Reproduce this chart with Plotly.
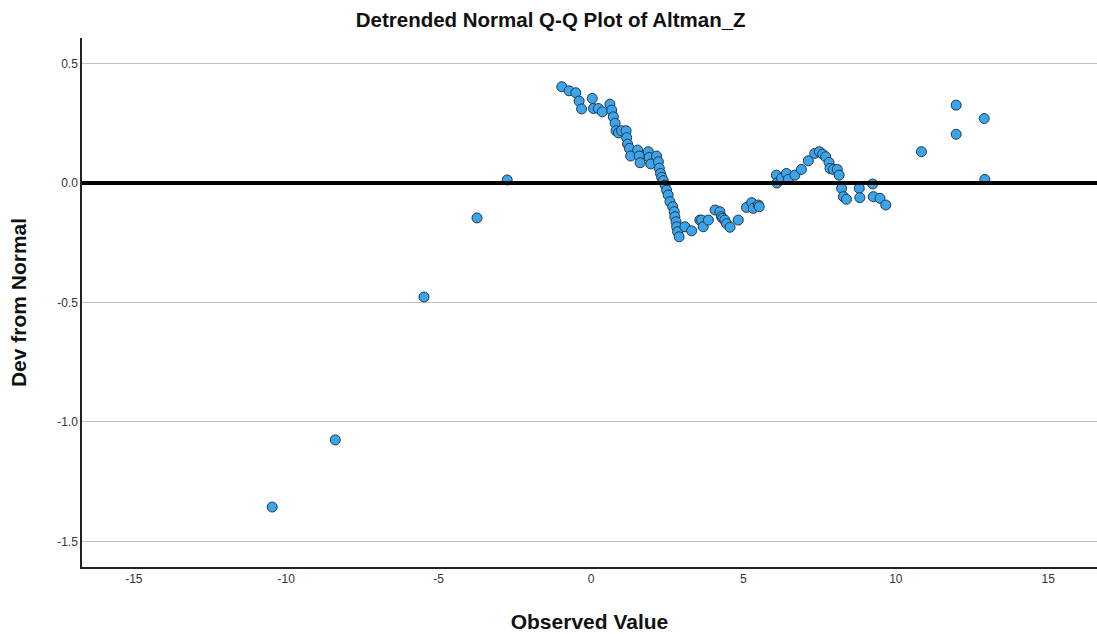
import plotly.graph_objects as go

observed = [
    -10.46, -8.39, -5.48, -3.74, -2.75,
    -0.96, -0.72, -0.50, -0.39, -0.31, 0.04, 0.08, 0.24, 0.37,
    0.62, 0.68, 0.73, 0.79, 0.82, 0.90, 1.00, 1.15, 1.17, 1.20, 1.26, 1.30,
    1.53, 1.58, 1.61, 1.88, 1.91, 1.96, 2.15, 2.21, 2.24, 2.28, 2.32, 2.37,
    2.43, 2.48, 2.53, 2.59, 2.68, 2.73, 2.75, 2.79, 2.81, 2.84, 2.89,
    3.08, 3.30, 3.57, 3.63, 3.68, 3.85, 4.07, 4.23, 4.28, 4.32, 4.39, 4.45,
    4.56, 4.83, 5.10, 5.27, 5.32, 5.49, 5.52,
    6.08, 6.10, 6.25, 6.41, 6.47, 6.69, 6.90, 7.13, 7.34, 7.49, 7.60, 7.70,
    7.81, 7.84, 7.95, 8.08, 8.14, 8.22, 8.28, 8.38, 8.80, 8.82, 9.24, 9.26,
    9.48, 9.67, 10.84, 11.98, 11.98, 12.90, 12.92,
]
dev_from_normal = [
    -1.356, -1.075, -0.477, -0.146, 0.013,
    0.403, 0.386, 0.378, 0.343, 0.310, 0.354, 0.312, 0.312, 0.298,
    0.330, 0.305, 0.277, 0.250, 0.219, 0.210, 0.219, 0.219, 0.190, 0.163, 0.145, 0.113,
    0.138, 0.113, 0.085, 0.131, 0.107, 0.080, 0.113, 0.089, 0.062, 0.040, 0.024, 0.010,
    -0.008, -0.030, -0.050, -0.078, -0.099, -0.120, -0.141, -0.162, -0.183, -0.204, -0.225,
    -0.183, -0.200, -0.155, -0.155, -0.183, -0.155, -0.113, -0.120, -0.141, -0.148, -0.155, -0.170,
    -0.185, -0.155, -0.102, -0.082, -0.106, -0.092, -0.099,
    0.033, 0.000, 0.020, 0.040, 0.015, 0.033, 0.057, 0.093, 0.124, 0.131, 0.121, 0.110,
    0.086, 0.061, 0.057, 0.057, 0.033, -0.022, -0.057, -0.068, -0.022, -0.061, -0.004, -0.057,
    -0.064, -0.092, 0.131, 0.326, 0.204, 0.270, 0.015,
]

x_ticks = [-15, -10, -5, 0, 5, 10, 15]
x_tick_labels = ["-15", "-10", "-5", "0", "5", "10", "15"]
y_ticks = [-1.5, -1.0, -0.5, 0.0, 0.5]
y_tick_labels = ["-1.5", "-1.0", "-0.5", "0.0", "0.5"]
x_range = [-16.7, 16.6]
y_range = [-1.607, 0.607]

font_family = "Liberation Sans, Arial, sans-serif"

fig = go.Figure()

fig.add_trace(go.Scatter(
    x=observed, y=dev_from_normal, mode="markers",
    marker=dict(size=10, color="#3aa5ec", line=dict(color="#233746", width=1)),
    showlegend=False, cliponaxis=False,
))

fig.add_shape(type="line", xref="paper", yref="y", x0=0, x1=1, y0=0, y1=0,
              line=dict(color="black", width=4), layer="above")

fig.update_layout(
    width=1097, height=634,
    margin=dict(l=82, r=0, t=38, b=67),
    paper_bgcolor="white", plot_bgcolor="white",
    font=dict(family=font_family, color="#222222"),
    title=dict(text="Detrended Normal Q-Q Plot of Altman_Z", x=0.502, xref="container",
               xanchor="center", y=0.968, yanchor="middle",
               font=dict(size=20.5, family=font_family, color="#111111", weight="bold")),
)

fig.update_xaxes(
    range=x_range, tickvals=x_ticks, ticktext=x_tick_labels, showgrid=False, zeroline=False,
    showline=True, linecolor="#222222", linewidth=1.5, ticks="", ticklen=0,
    tickfont=dict(size=12, color="#333333"),
    title=dict(text="Observed Value", standoff=29,
               font=dict(size=21, family=font_family, color="#111111", weight="bold")),
)
fig.update_yaxes(
    range=y_range, tickvals=y_ticks, ticktext=y_tick_labels, showgrid=True,
    gridcolor="#c2c2c2", gridwidth=1, zeroline=False,
    showline=True, linecolor="#222222", linewidth=1.5, ticks="",
    tickfont=dict(size=12, color="#333333"),
    title=dict(text="Dev from Normal", standoff=25,
               font=dict(size=21, family=font_family, color="#111111", weight="bold")),
)

fig.write_html("out.html", config={"displayModeBar": False})

with open("out.html", "r", encoding="utf-8") as f:
    html = f.read()
html = html.replace("<head>", "<head><style>html,body{margin:0;padding:0;overflow:hidden;}</style>", 1)
with open("out.html", "w", encoding="utf-8") as f:
    f.write(html)
